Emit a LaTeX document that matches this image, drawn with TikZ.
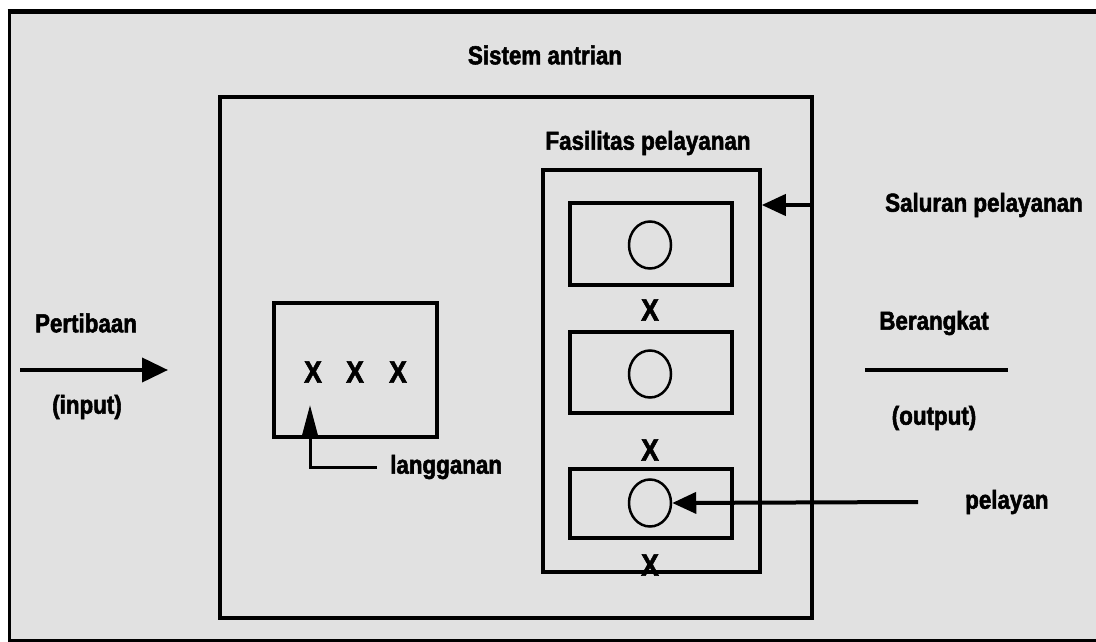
\documentclass[tikz,border=0pt]{standalone}
\usepackage{fontspec}
\setmainfont{Liberation Sans}[FakeStretch=0.86, BoldFeatures={FakeStretch=0.86, FakeBold=2}]
\usetikzlibrary{arrows.meta,shapes.geometric}
\definecolor{panel}{HTML}{E1E1E1}
\tikzset{
  lbl/.style={font=\fontsize{26}{29}\selectfont\bfseries, inner sep=0pt},
  boxed/.style={draw, rectangle, line width=3.5pt, inner sep=0pt},
  server/.style={draw, ellipse, line width=2.5pt, minimum width=42pt, minimum height=47pt, inner sep=0pt},
  cross/.style={font=\fontsize{31}{34}\selectfont\bfseries, inner sep=0pt},
  link/.style={line width=4pt},
  bigtip/.style={-{Triangle[length=26pt,width=24pt]}},
  midtip/.style={-{Triangle[length=24pt,width=21pt]}},
  uptip/.style={-{Triangle[length=32pt,width=16pt]}}
}
\begin{document}
\begin{tikzpicture}[x=1pt,y=-1pt]
\useasboundingbox (0,0) rectangle (1096,642);
\fill[white] (0,0) rectangle (1096,642);
% outer panel, open on the right
\fill[panel] (9,12) rectangle (1096,640);
\draw[line width=3pt] (9,12) -- (9,640) -- (1096,640);
\draw[line width=5pt] (7.5,12) -- (1096,12);

% titles
\node[lbl] (title) at (545,55) {Sistem antrian};

% queueing system box
\node[boxed, minimum width=592pt, minimum height=521pt] (sys) at (516,357.5) {};

% service facility with three servers
\node[lbl] (factitle) at (648,143) {Fasilitas pelayanan};
\node[boxed, minimum width=217pt, minimum height=402pt] (fac) at (651.5,371) {};
\node[boxed, minimum width=162pt, minimum height=82pt] (s1) at (651,244) {};
\node[boxed, minimum width=162pt, minimum height=81pt] (s2) at (651,372.5) {};
\node[boxed, minimum width=162pt, minimum height=69pt] (s3) at (651,503.5) {};
\node[server] (c1) at (650,245) {};
\node[server] (c2) at (650,374) {};
\node[server] (c3) at (650,503) {};
\node[cross] (x1) at (650,310) {X};
\node[cross] (x2) at (650,450) {X};
\node[cross] (x3) at (650,565) {X};

% customers waiting in line
\node[boxed, minimum width=163pt, minimum height=134pt] (cust) at (355.5,370) {};
\node[cross] (q1) at (313,372) {X};
\node[cross] (q2) at (355,372) {X};
\node[cross] (q3) at (398,372) {X};
\node[lbl, anchor=west] (lg) at (390,467) {langganan};
\coordinate (ctip) at (310,405);
\draw[line width=3pt, uptip] ([xshift=-13pt]lg.west) -| (ctip);

% service channel
\node[lbl, anchor=west] (chan) at (885,205) {Saluran pelayanan};
\draw[link, midtip] (sys.east |- chan) -- (fac.east |- chan);

% arrivals
\node[lbl] (arr) at (86,323) {Pertibaan};
\node[lbl] (arrin) at (87,407) {(input)};
\coordinate (inA) at (20,370);
\coordinate (inB) at (168,370);
\draw[link, bigtip] (inA) -- (inB);

% departures
\node[lbl] (dep) at (934,323) {Berangkat};
\node[lbl] (depout) at (934,418) {(output)};
\coordinate (outA) at (865,370);
\coordinate (outB) at (1008,370);
\draw[link] (outA) -- (outB);

% server label
\node[lbl, anchor=west] (pel) at (965,502) {pelayan};
\draw[link, midtip] ([xshift=-47pt]pel.west) -- (c3.east);
\end{tikzpicture}
\end{document}
